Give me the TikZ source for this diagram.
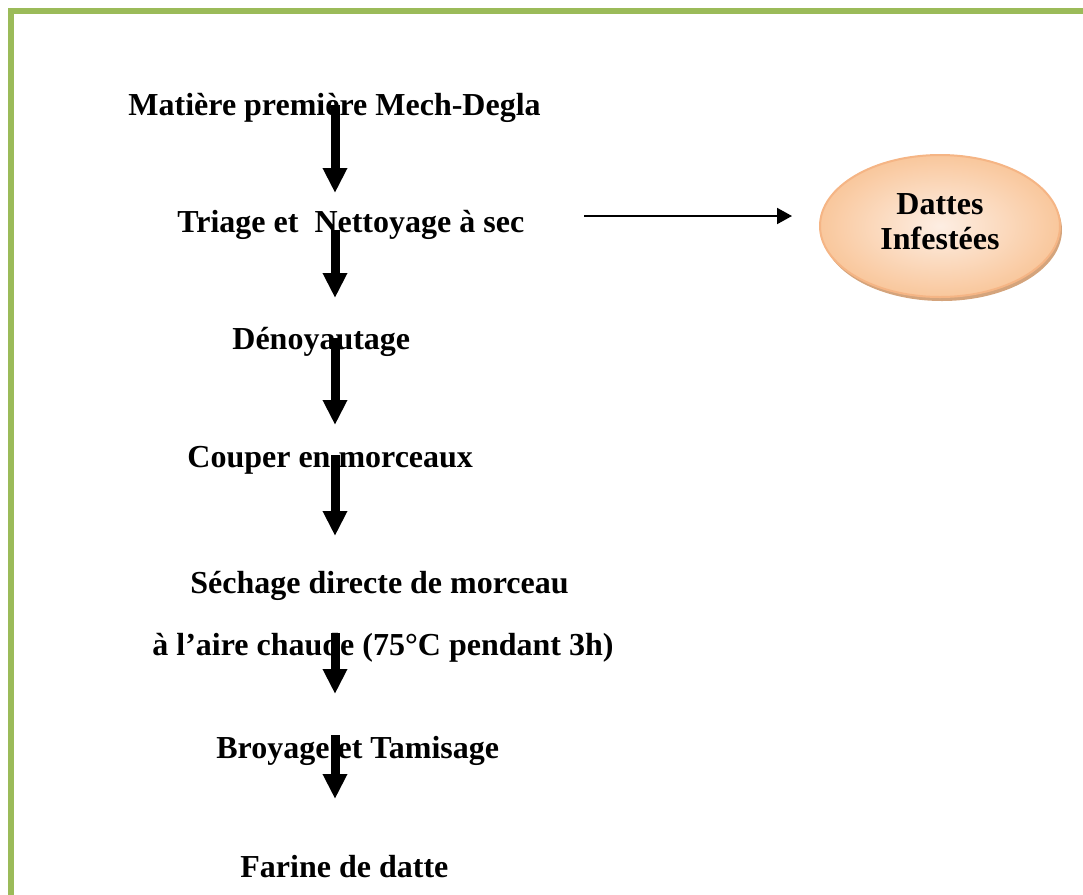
\documentclass[tikz,border=0pt]{standalone}
\usepackage{fontspec}
\setmainfont{Liberation Serif}
\usetikzlibrary{arrows.meta,shapes.geometric,shadows}
\definecolor{framegreen}{HTML}{9BBB59}
\definecolor{peachout}{HTML}{F9C79C}
\definecolor{peachin}{HTML}{FDEEE3}
\definecolor{peachline}{HTML}{F5B585}
\definecolor{peachshadow}{HTML}{D4A47C}
\begin{document}
\begin{tikzpicture}[x=0.5pt,y=-0.5pt,
  lbl/.style={anchor=base west,inner sep=0pt,font=\fontsize{16}{19}\selectfont\bfseries},
  flow/.style={line width=4.5pt,-{Triangle[length=12.5pt,width=11.5pt]}},
  side/.style={line width=1pt,-{Triangle[length=7.5pt,width=8pt]}},
  blob/.style={ellipse,draw=peachline,line width=1pt,inner color=peachin,outer color=peachout,
    minimum width=120pt,minimum height=71pt,inner sep=0pt,align=center,text depth=4.5pt,
    font=\fontsize{16}{17.5}\selectfont\bfseries,
    drop shadow={shadow xshift=1pt,shadow yshift=-2pt,fill=peachshadow,opacity=1}}]
\useasboundingbox (0,0) rectangle (1083,895);
\draw[framegreen,line width=3pt] (11,900) -- (11,11) -- (1090,11);

\node[lbl] (t1) at (128,115) {Matière première Mech-Degla};
\node[lbl] (t2) at (177,232) {Triage et\ \ Nettoyage à sec};
\node[lbl] (t3) at (232,349) {Dénoyautage};
\node[lbl] (t4) at (187,467) {Couper en morceaux};
\node[lbl] (t5) at (190,593) {Séchage directe de morceau};
\node[lbl] (t6) at (152,655) {à l’aire chaude (75°C pendant 3h)};
\node[lbl] (t7) at (216,758) {Broyage et Tamisage};
\node[lbl] (t8) at (240,877) {Farine de datte};

\node[blob] (e) at (940,226) {Dattes\\Infestées};

\coordinate (a1s) at (335,105); \coordinate (a1e) at (335,193);
\coordinate (a2s) at (335,230); \coordinate (a2e) at (335,298);
\coordinate (a3s) at (335,338); \coordinate (a3e) at (335,425);
\coordinate (a4s) at (335,455); \coordinate (a4e) at (335,536);
\coordinate (a5s) at (335,633); \coordinate (a5e) at (335,694);
\coordinate (a6s) at (335,735); \coordinate (a6e) at (335,799);
\coordinate (hs) at (584,216); \coordinate (he) at (792,216);

\draw[flow] (a1s) -- (a1e);
\draw[flow] (a2s) -- (a2e);
\draw[flow] (a3s) -- (a3e);
\draw[flow] (a4s) -- (a4e);
\draw[flow] (a5s) -- (a5e);
\draw[flow] (a6s) -- (a6e);
\draw[side] (hs) -- (he);
\end{tikzpicture}
\end{document}
